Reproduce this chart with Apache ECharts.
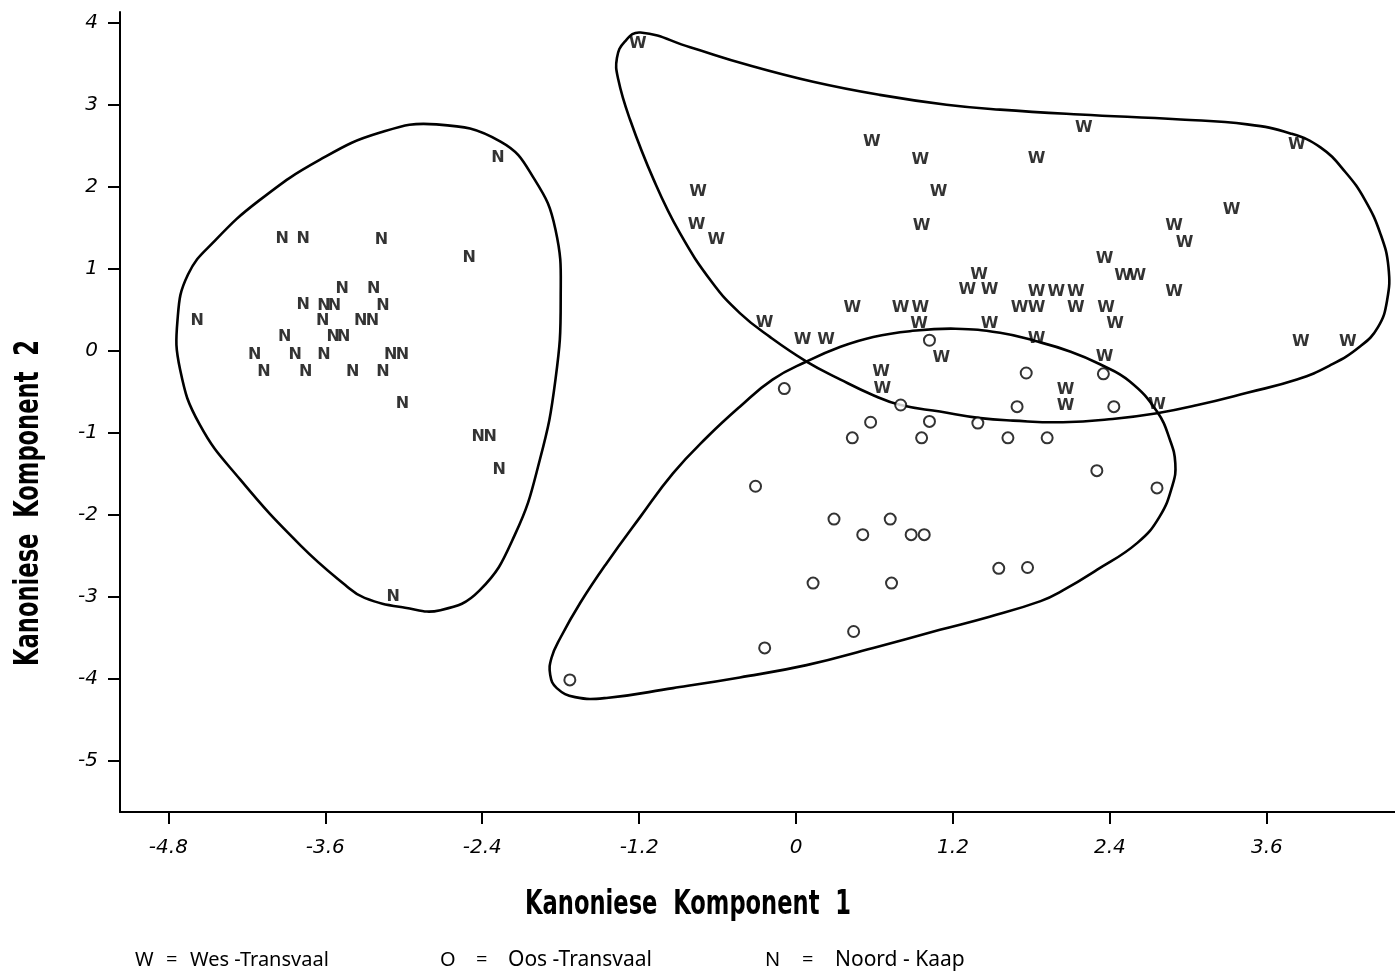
<!DOCTYPE html>
<html>
<head>
<meta charset="utf-8">
<script src="https://cdn.jsdelivr.net/npm/echarts@6/dist/echarts.min.js"></script>
<style>
html,body{margin:0;padding:0;background:#fff;}
#chart{width:1395px;height:976px;}
</style>
</head>
<body>
<div id="chart"></div>
<script>
// ---- tick labels ----
const xTicks = [-4.8, -3.6, -2.4, -1.2, 0, 1.2, 2.4, 3.6];
const yTicks = [-5, -4, -3, -2, -1, 0, 1, 2, 3, 4];

// ---- W = Wes-Transvaal ----
const wesTransvaal = [
  [-1.21,3.74],[0.58,2.55],[0.95,2.33],[-0.75,1.94],[1.09,1.94],[-0.76,1.54],[0.96,1.52],
  [-0.61,1.35],[1.40,0.93],[1.31,0.74],[1.48,0.74],[0.43,0.53],[0.80,0.53],[0.95,0.53],
  [-0.24,0.34],[0.94,0.33],[1.48,0.33],[0.05,0.14],[0.23,0.13],[1.11,-0.09],[0.65,-0.25],
  [0.66,-0.46],[2.20,2.72],[3.83,2.51],[1.84,2.34],[3.33,1.72],[2.89,1.52],[2.97,1.32],
  [2.36,1.12],[2.50,0.91],[2.61,0.91],[1.84,0.72],[1.99,0.72],[2.14,0.72],[2.89,0.72],
  [1.71,0.52],[1.84,0.52],[2.14,0.52],[2.37,0.52],[2.44,0.33],[1.84,0.15],[3.86,0.11],
  [4.22,0.11],[2.36,-0.07],[2.06,-0.48],[2.06,-0.67],[2.76,-0.66]
];

// ---- O = Oos-Transvaal ----
const oosTransvaal = [
  [1.02,0.13],[-0.09,-0.46],[0.80,-0.66],[0.57,-0.87],[1.02,-0.86],[0.43,-1.06],[0.96,-1.06],
  [-0.31,-1.65],[0.29,-2.05],[0.72,-2.05],[0.51,-2.24],[0.88,-2.24],[0.98,-2.24],[0.13,-2.83],
  [0.73,-2.83],[0.44,-3.42],[-0.24,-3.62],[-1.73,-4.01],[1.76,-0.27],[2.35,-0.28],[1.69,-0.68],
  [2.43,-0.68],[1.39,-0.88],[1.62,-1.06],[1.92,-1.06],[2.30,-1.46],[2.76,-1.67],[1.55,-2.65],
  [1.77,-2.64]
];

// ---- N = Noord-Kaap ----
const noordKaap = [
  [-3.93,1.37],[-3.77,1.37],[-3.17,1.35],[-3.47,0.76],[-3.23,0.76],[-3.77,0.56],[-3.61,0.55],
  [-3.53,0.55],[-3.16,0.55],[-3.62,0.36],[-3.33,0.36],[-3.24,0.36],[-4.58,0.36],[-3.91,0.17],
  [-3.54,0.17],[-3.46,0.17],[-4.14,-0.05],[-3.83,-0.05],[-3.61,-0.05],[-3.10,-0.05],[-3.01,-0.05],
  [-4.07,-0.25],[-3.75,-0.25],[-3.39,-0.25],[-3.16,-0.25],[-3.01,-0.64],[-2.28,2.35],[-2.50,1.13],
  [-2.43,-1.05],[-2.34,-1.05],[-2.27,-1.45],[-3.08,-3.00]
];

// ---- hand-drawn group boundaries (data units) ----
const noordOutline = [
  [-2.75,2.76],[-2.26,2.55],[-2.00,2.09],[-1.84,1.48],[-1.80,0.62],[-1.84,-0.35],[-1.96,-1.33],
  [-2.15,-2.24],[-2.42,-2.92],[-2.72,-3.16],[-2.99,-3.13],[-3.30,-3.01],[-3.45,-2.85],[-3.79,-2.37],
  [-4.25,-1.57],[-4.56,-0.90],[-4.71,-0.23],[-4.73,0.38],[-4.65,0.93],[-4.44,1.35],[-4.10,1.84],
  [-3.64,2.33],[-3.18,2.66]
];
const wesOutline = [
  [-1.19,3.88],[-0.81,3.70],[-0.38,3.49],[0.13,3.28],[0.64,3.12],[1.15,3.00],[1.56,2.94],
  [2.17,2.88],[2.94,2.82],[3.45,2.76],[3.78,2.65],[4.01,2.48],[4.20,2.18],[4.35,1.84],
  [4.47,1.42],[4.53,1.02],[4.52,0.62],[4.45,0.29],[4.31,0.05],[4.08,-0.18],[3.83,-0.35],
  [3.45,-0.51],[3.07,-0.66],[2.76,-0.76],[2.42,-0.83],[2.04,-0.87],[1.66,-0.85],[1.41,-0.82],
  [1.10,-0.74],[0.80,-0.66],[0.59,-0.54],[0.34,-0.35],[0.08,-0.13],[-0.20,0.17],[-0.43,0.46],
  [-0.64,0.83],[-0.89,1.44],[-1.09,2.09],[-1.27,2.82],[-1.36,3.31],[-1.37,3.57],[-1.31,3.77]
];
const oosOutline = [
  [1.22,0.27],[1.56,0.22],[1.83,0.12],[2.10,-0.01],[2.32,-0.16],[2.55,-0.37],[2.76,-0.74],
  [2.86,-1.09],[2.90,-1.37],[2.88,-1.63],[2.78,-2.02],[2.61,-2.34],[2.30,-2.67],[2.04,-2.92],
  [1.87,-3.05],[1.48,-3.24],[1.10,-3.40],[0.59,-3.62],[0.08,-3.83],[-0.43,-3.98],[-0.94,-4.11],
  [-1.45,-4.23],[-1.69,-4.22],[-1.83,-4.11],[-1.88,-3.95],[-1.87,-3.74],[-1.80,-3.49],[-1.65,-3.07],
  [-1.45,-2.59],[-1.19,-2.02],[-0.94,-1.49],[-0.68,-1.05],[-0.43,-0.68],[-0.18,-0.35],[0.08,-0.13],
  [0.34,0.05],[0.59,0.17],[0.87,0.24]
];

const tickFont = "'DejaVu Sans',sans-serif";
const titleFont = "'DejaVu Sans',sans-serif";
const markFont = "'DejaVu Sans',sans-serif";
const legendFont = "20px 'Noto Sans',sans-serif";
const legendFontWide = "21px 'Noto Sans',sans-serif";

function outlineSeries(outline) {
  return {
    type: 'custom',
    coordinateSystem: 'cartesian2d',
    silent: true,
    clip: false,
    data: [outline[0]],
    renderItem: function (params, api) {
      return {
        type: 'polygon',
        shape: { points: outline.map(p => api.coord(p)), smooth: 0.45 },
        style: { fill: 'none', stroke: '#000', lineWidth: 2.6 }
      };
    }
  };
}

function letterSeries(data, letter) {
  return {
    type: 'scatter',
    data: data,
    symbol: 'circle',
    symbolSize: 1,
    silent: true,
    itemStyle: { color: 'rgba(0,0,0,0)' },
    label: {
      show: true, position: 'inside', formatter: letter,
      color: '#000', fontFamily: markFont, fontWeight: 'bold', fontSize: 16
    }
  };
}

function legendText(x, text, font) {
  return { type: 'text', x: x, y: 960, style: { text: text, fill: '#000', font: font || legendFont, textVerticalAlign: 'middle' } };
}

const chart = echarts.init(document.getElementById('chart'), null, { renderer: 'canvas' });
chart.setOption({
  animation: false,
  backgroundColor: '#fff',
  grid: { left: 120, top: 12, width: 1275, height: 800, containLabel: false },
  xAxis: {
    type: 'value', min: -5.17, max: 4.58,
    splitLine: { show: false },
    axisLine: { onZero: false, lineStyle: { color: '#000', width: 2 } },
    axisTick: { show: true, length: 12, inside: false, customValues: xTicks, lineStyle: { color: '#000', width: 2 } },
    axisLabel: {
      customValues: xTicks, margin: 26, color: '#000', fontSize: 20,
      fontStyle: 'italic', fontFamily: tickFont,
      formatter: v => String(v)
    }
  },
  yAxis: {
    type: 'value', min: -5.62, max: 4.13,
    splitLine: { show: false },
    axisLine: { onZero: false, lineStyle: { color: '#000', width: 2 } },
    axisTick: { show: true, length: 12, inside: false, customValues: yTicks, lineStyle: { color: '#000', width: 2 } },
    axisLabel: {
      customValues: yTicks, margin: 22, color: '#000', fontSize: 20,
      fontStyle: 'italic', fontFamily: tickFont,
      formatter: v => String(v)
    }
  },
  graphic: [
    { type: 'text', x: 688, y: 905, scaleX: 0.665, style: { text: 'Kanoniese  Komponent  1', fill: '#000',
      font: "bold 34px " + titleFont, textAlign: 'center', textVerticalAlign: 'middle' } },
    { type: 'text', x: 29, y: 503, rotation: Math.PI / 2, scaleX: 0.665, style: { text: 'Kanoniese  Komponent  2', fill: '#000',
      font: "bold 34px " + titleFont, textAlign: 'center', textVerticalAlign: 'middle' } },
    legendText(135, 'W'), legendText(166, '='), legendText(190, 'Wes -Transvaal'),
    legendText(440, 'O'), legendText(476, '='), legendText(508, 'Oos -Transvaal', legendFontWide),
    legendText(765, 'N'), legendText(802, '='), legendText(835, 'Noord - Kaap', legendFontWide)
  ],
  series: [
    outlineSeries(noordOutline),
    outlineSeries(wesOutline),
    outlineSeries(oosOutline),
    letterSeries(wesTransvaal, 'W'),
    letterSeries(noordKaap, 'N'),
    {
      type: 'scatter', data: oosTransvaal, symbol: 'emptyCircle', symbolSize: 11, silent: true,
      itemStyle: { color: '#000', borderColor: '#000', borderWidth: 1.8 }
    }
  ]
});
</script>
</body>
</html>
